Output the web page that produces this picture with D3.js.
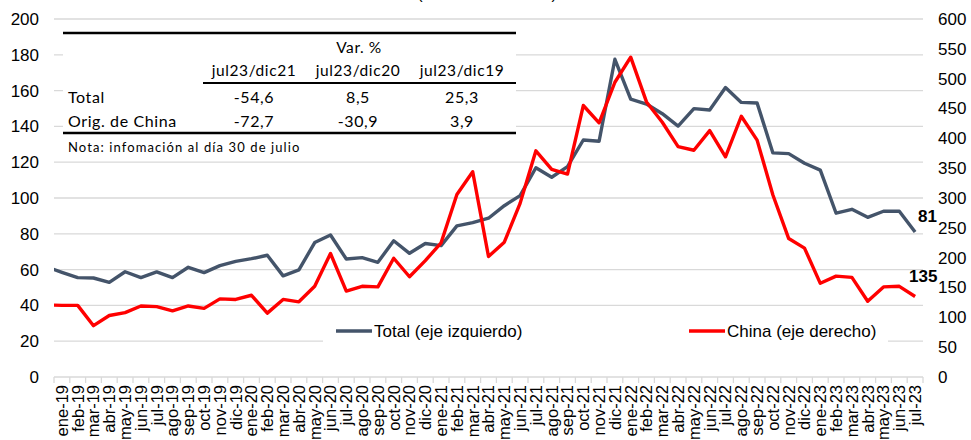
<!DOCTYPE html>
<html>
<head>
<meta charset="utf-8">
<script src="https://cdn.jsdelivr.net/npm/d3@7"></script>
<style>
  body { margin: 0; background: #fff; }
  svg { display: block; }
  .lbl { font-family: "Liberation Sans", Arial, sans-serif; fill: #000; }
  .tbl { font-family: Lato, "Open Sans", sans-serif; fill: #000; }
</style>
</head>
<body>
<svg id="chart"></svg>
<script>
// months, first one (dic-18) only feeds the clipped lead-in segment
const months = ["dic-18",
  "ene-19","feb-19","mar-19","abr-19","may-19","jun-19","jul-19","ago-19","sep-19","oct-19","nov-19","dic-19",
  "ene-20","feb-20","mar-20","abr-20","may-20","jun-20","jul-20","ago-20","sep-20","oct-20","nov-20","dic-20",
  "ene-21","feb-21","mar-21","abr-21","may-21","jun-21","jul-21","ago-21","sep-21","oct-21","nov-21","dic-21",
  "ene-22","feb-22","mar-22","abr-22","may-22","jun-22","jul-22","ago-22","sep-22","oct-22","nov-22","dic-22",
  "ene-23","feb-23","mar-23","abr-23","may-23","jun-23","jul-23"];

// Total (eje izquierdo)
const total = [61.6,
  58.5, 55.5, 55.3, 52.9, 58.8, 55.5, 58.7, 55.5, 61.3, 58.3, 62.2, 64.6,
  66.1, 68.0, 56.5, 59.8, 75.1, 79.3, 65.9, 66.7, 64.1, 76.1, 69.1, 74.6,
  73.4, 84.4, 86.2, 88.7, 95.7, 101.3, 116.9, 111.6, 117.5, 132.4, 131.7, 177.5,
  155.2, 152.5, 147.1, 140.2, 149.9, 149.2, 161.7, 153.4, 153.1, 125.2, 124.8, 119.4,
  115.6, 91.5, 93.7, 89.2, 92.6, 92.6, 81];

// China (eje derecho)
const china = [121,
  120, 120, 86, 103, 108, 119, 118, 111, 119, 115, 131, 130,
  137, 107, 130, 126, 152, 207, 144, 152, 151, 199, 168, 195,
  225, 306, 344, 202, 226, 291, 379, 348, 340, 455, 426, 494,
  536, 461, 427, 386, 380, 413, 369, 437, 397, 305, 232, 216,
  157, 169, 167, 127, 151, 152, 135];

const leftTicks = [0, 20, 40, 60, 80, 100, 120, 140, 160, 180, 200];
const rightTicks = [0, 50, 100, 150, 200, 250, 300, 350, 400, 450, 500, 550, 600];

// table
const tableCols = ["jul23/dic21", "jul23/dic20", "jul23/dic19"];
const tableRows = ["Total", "Orig. de China"];
const tableVals = [["-54,6", "8,5", "25,3"], ["-72,7", "-30,9", "3,9"]];

const seriesNames = ["Total (eje izquierdo)", "China (eje derecho)"];
const colors = ["#44546A", "#FF0000"];

let W = 971, H = 440;
let plot = {left: 54, right: 923, top: 19, bottom: 377};

let svg = d3.select("#chart").attr("width", W).attr("height", H);

// x: one band per month, dic-18 sits just left of the plot area
let step = (plot.right - plot.left) / (months.length - 1);
let x = d3.scaleBand().domain(months).range([plot.left - step, plot.right]);
let yL = d3.scaleLinear().domain([0, 200]).range([plot.bottom, plot.top]);
let yR = d3.scaleLinear().domain([0, 600]).range([plot.bottom, plot.top]);

// cut-off title remnant
svg.append("text").attr("class", "lbl")
    .attr("x", 487).attr("y", -1)
    .attr("text-anchor", "middle")
    .style("font-size", "16px")
    .text("(miles de unidades)");

// gridlines
svg.append("g").selectAll("line")
    .data(leftTicks.slice(1))
    .join("line")
    .attr("x1", plot.left).attr("x2", plot.right)
    .attr("y1", d => yL(d)).attr("y2", d => yL(d))
    .attr("stroke", "#D9D9D9").attr("stroke-width", 1.3);

// left axis labels
svg.append("g").selectAll("text")
    .data(leftTicks)
    .join("text")
    .attr("class", "lbl")
    .attr("x", 39).attr("y", d => yL(d))
    .attr("dy", "0.35em")
    .attr("text-anchor", "end")
    .style("font-size", "17px")
    .text(d => d);

// right axis labels
svg.append("g").selectAll("text")
    .data(rightTicks)
    .join("text")
    .attr("class", "lbl")
    .attr("x", 938).attr("y", d => yR(d))
    .attr("dy", "0.35em")
    .style("font-size", "17px")
    .text(d => d);

// x axis
let shown = months.slice(1);
let xAxis = svg.append("g")
    .attr("transform", "translate(0," + plot.bottom + ")")
    .call(d3.axisBottom(x).tickValues(shown).tickSize(0));
xAxis.select(".domain").remove();
xAxis.selectAll("text")
    .attr("class", "lbl")
    .attr("transform", "rotate(-90)")
    .attr("x", -8).attr("y", 0)
    .attr("dy", "0.36em")
    .style("text-anchor", "end")
    .style("font-size", "16.5px")
    .style("font-family", "'Liberation Sans', Arial, sans-serif")
    .attr("fill", "#000");

svg.append("line")
    .attr("x1", plot.left).attr("x2", plot.right)
    .attr("y1", plot.bottom).attr("y2", plot.bottom)
    .attr("stroke", "#D9D9D9").attr("stroke-width", 1.3);
svg.append("g").selectAll("line")
    .data(shown.concat(["end"]))
    .join("line")
    .attr("x1", d => d === "end" ? plot.right : x(d))
    .attr("x2", d => d === "end" ? plot.right : x(d))
    .attr("y1", plot.bottom).attr("y2", plot.bottom + 6)
    .attr("stroke", "#D9D9D9").attr("stroke-width", 1.3);

// table box (white, hides gridlines)
svg.append("rect")
    .attr("x", 63).attr("y", 25).attr("width", 453).attr("height", 133)
    .attr("fill", "#fff");

// legend box
svg.append("rect")
    .attr("x", 323).attr("y", 311).attr("width", 565).attr("height", 34)
    .attr("fill", "#fff");

// lines
svg.append("clipPath").attr("id", "clip")
    .append("rect")
    .attr("x", plot.left).attr("y", 0)
    .attr("width", plot.right - plot.left).attr("height", H);

let cx = (d, i) => x(months[i]) + x.bandwidth() / 2;
let lineL = d3.line().x(cx).y(d => yL(d));
let lineR = d3.line().x(cx).y(d => yR(d));

let lines = svg.append("g").attr("clip-path", "url(#clip)");
lines.append("path")
    .datum(total)
    .attr("fill", "none")
    .attr("stroke", colors[0])
    .attr("stroke-width", 3.4)
    .attr("stroke-linejoin", "round")
    .attr("d", lineL);
lines.append("path")
    .datum(china)
    .attr("fill", "none")
    .attr("stroke", colors[1])
    .attr("stroke-width", 3.4)
    .attr("stroke-linejoin", "round")
    .attr("d", lineR);

// end labels
let last = months.length - 1;
svg.append("text").attr("class", "lbl")
    .attr("x", cx(null, last) + 3).attr("y", yL(total[last]) - 10)
    .style("font-size", "17px").style("font-weight", "bold")
    .text(total[last]);
svg.append("text").attr("class", "lbl")
    .attr("x", cx(null, last) - 6).attr("y", yR(china[last]) - 14)
    .style("font-size", "17px").style("font-weight", "bold")
    .text(china[last]);

// legend
let legX = [336, 689];
seriesNames.forEach(function(name, i) {
    svg.append("line")
        .attr("x1", legX[i]).attr("x2", legX[i] + 36)
        .attr("y1", 331).attr("y2", 331)
        .attr("stroke", colors[i]).attr("stroke-width", 3.4);
    svg.append("text").attr("class", "lbl")
        .attr("x", legX[i] + 38).attr("y", 331)
        .attr("dy", "0.35em")
        .style("font-size", "17px")
        .text(name);
});

// table
let colX = [254, 358, 462];
svg.append("line").attr("x1", 63).attr("x2", 516).attr("y1", 33).attr("y2", 33)
    .attr("stroke", "#000").attr("stroke-width", 2.5);
svg.append("line").attr("x1", 203).attr("x2", 516).attr("y1", 83).attr("y2", 83)
    .attr("stroke", "#000").attr("stroke-width", 2);
svg.append("line").attr("x1", 63).attr("x2", 516).attr("y1", 133).attr("y2", 133)
    .attr("stroke", "#000").attr("stroke-width", 2.5);

svg.append("text").attr("class", "tbl")
    .attr("x", 359).attr("y", 53)
    .attr("text-anchor", "middle")
    .style("font-size", "15.5px").style("letter-spacing", "0.6px")
    .text("Var. %");

tableCols.forEach(function(c, j) {
    svg.append("text").attr("class", "tbl")
        .attr("x", colX[j]).attr("y", 76)
        .attr("text-anchor", "middle")
        .style("font-size", "15.5px").style("letter-spacing", "0.6px")
        .text(c);
});

let rowY = [103, 127];
tableRows.forEach(function(r, i) {
    svg.append("text").attr("class", "tbl")
        .attr("x", 68).attr("y", rowY[i])
        .style("font-size", "16px").style("letter-spacing", "0.6px")
        .text(r);
    tableVals[i].forEach(function(v, j) {
        svg.append("text").attr("class", "tbl")
            .attr("x", colX[j]).attr("y", rowY[i])
            .attr("text-anchor", "middle")
            .style("font-size", "16px").style("letter-spacing", "0.6px")
            .text(v);
    });
});

svg.append("text").attr("class", "tbl")
    .attr("x", 68).attr("y", 152)
    .style("font-size", "13px").style("letter-spacing", "1.1px")
    .text("Nota: infomación al día 30 de julio");
</script>
</body>
</html>
